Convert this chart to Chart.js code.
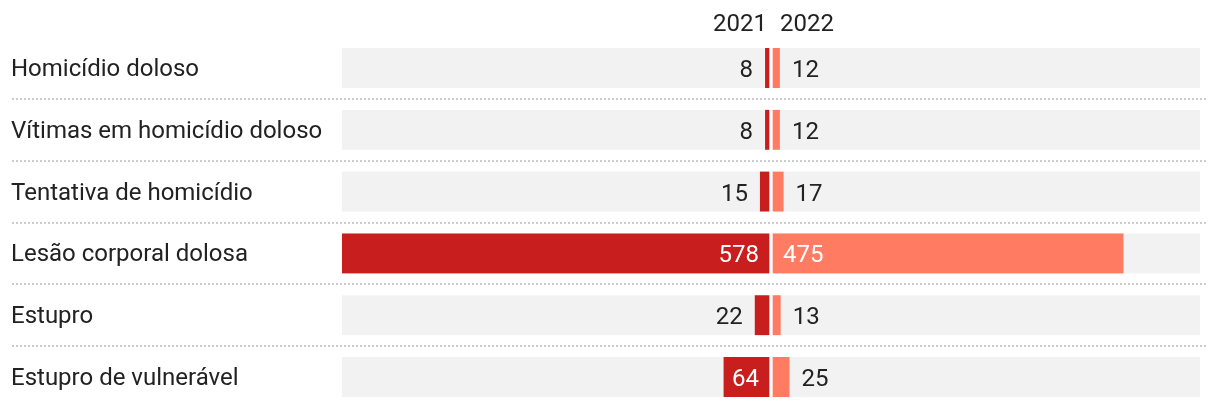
<!DOCTYPE html>
<html>
<head>
<meta charset="utf-8">
<script src="https://cdn.jsdelivr.net/npm/chart.js@4"></script>
<style>
  body { margin: 0; background: #fff; }
  canvas { display: block; }
</style>
</head>
<body>
<canvas id="crimes_chart" width="1220" height="408"></canvas>
<script>
categories = ['Homicídio doloso', 'Vítimas em homicídio doloso', 'Tentativa de homicídio', 'Lesão corporal dolosa', 'Estupro', 'Estupro de vulnerável']
seriesLabels = ['2021', '2022']
values2021 = [8, 8, 15, 578, 22, 64]
values2022 = [12, 12, 17, 475, 13, 25]

maxVal = Math.max(...values2021, ...values2022)
textColor = '#222222'
labelFont = { family: 'Roboto', size: 24 }
numberFont = '24px Roboto'

// each half gets a grey track; a white border on the zero side makes the gap
data = [
    {
    label: seriesLabels[0],
    data: values2021.map(v => -v),
    backgroundColor: '#c81e1e',
    borderColor: '#ffffff',
    borderWidth: { right: 2, left: 0, top: 0, bottom: 0 },
    order: 1,
    },
    {
    label: seriesLabels[1],
    data: values2022,
    backgroundColor: '#ff7c63',
    borderColor: '#ffffff',
    borderWidth: { left: 2, right: 0, top: 0, bottom: 0 },
    order: 1,
    },
    {
    label: 'track 2021',
    data: categories.map(() => -maxVal),
    backgroundColor: '#f2f2f2',
    borderColor: '#ffffff',
    borderWidth: { right: 2, left: 0, top: 0, bottom: 0 },
    order: 2,
    },
    {
    label: 'track 2022',
    data: categories.map(() => maxVal),
    backgroundColor: '#f2f2f2',
    borderColor: '#ffffff',
    borderWidth: { left: 2, right: 0, top: 0, bottom: 0 },
    order: 2,
    },
]

// dotted separators, year headers and value labels
extras = {
    id: 'extras',
    beforeDatasetsDraw(chart) {
        const ctx = chart.ctx, y = chart.scales.y, area = chart.chartArea
        ctx.save()
        ctx.strokeStyle = '#cccccc'
        ctx.lineWidth = 2
        ctx.setLineDash([2, 2])
        for (let i = 0; i < categories.length - 1; i++) {
            const py = Math.round((y.getPixelForTick(i) + y.getPixelForTick(i + 1)) / 2)
            ctx.beginPath()
            ctx.moveTo(12, py)
            ctx.lineTo(area.right + 8, py)
            ctx.stroke()
        }
        ctx.restore()
    },
    afterDatasetsDraw(chart) {
        const ctx = chart.ctx
        const zero = chart.scales.x.getPixelForValue(0)
        ctx.save()
        ctx.font = numberFont
        ctx.textBaseline = 'alphabetic'
        ctx.fillStyle = textColor
        ctx.textAlign = 'right'
        ctx.fillText(seriesLabels[0], zero - 4, 31)
        ctx.textAlign = 'left'
        ctx.fillText(seriesLabels[1], zero + 9, 31)

        ;[0, 1].forEach(di => {
            const meta = chart.getDatasetMeta(di)
            const vals = di === 0 ? values2021 : values2022
            meta.data.forEach((bar, i) => {
                const txt = String(vals[i])
                const tw = ctx.measureText(txt).width
                const w = Math.abs(bar.x - bar.base)
                const inside = w >= tw + 16
                const ty = bar.y + 9
                ctx.fillStyle = inside ? '#ffffff' : textColor
                if (di === 0) {
                    ctx.textAlign = 'right'
                    ctx.fillText(txt, inside ? bar.base - 12 : bar.x - 12, ty)
                } else {
                    ctx.textAlign = 'left'
                    ctx.fillText(txt, inside ? bar.base + 12 : bar.x + 12, ty)
                }
            })
        })
        ctx.restore()
    }
}

config = {
    type: 'bar',
    data: {
        labels: categories,
        datasets: data
    },
    options: {
    indexAxis: 'y',
    responsive: false,
    devicePixelRatio: 1,
    animation: false,
    grouped: false,
    barThickness: 40,
    borderSkipped: false,
    layout: { padding: { left: 11, right: 20, top: 37, bottom: 0 } },
    plugins: {
        legend: { display: false },
        tooltip: { enabled: false },
    },
    scales: {
        x: {
            display: false,
            min: -maxVal,
            max: maxVal,
        },
        y: {
            grid: { display: false },
            border: { display: false },
            ticks: {
                autoSkip: false,
                crossAlign: 'far',
                labelOffset: 2,
                color: textColor,
                font: labelFont,
            },
            afterFit(scale) {
                scale.width = 331
                scale.paddingTop = 0
                scale.paddingBottom = 0
            },
        },
    },
    },
    plugins: [extras]
};

ctx = document.getElementById('crimes_chart');
new Chart(ctx, config);
</script>
</body>
</html>
